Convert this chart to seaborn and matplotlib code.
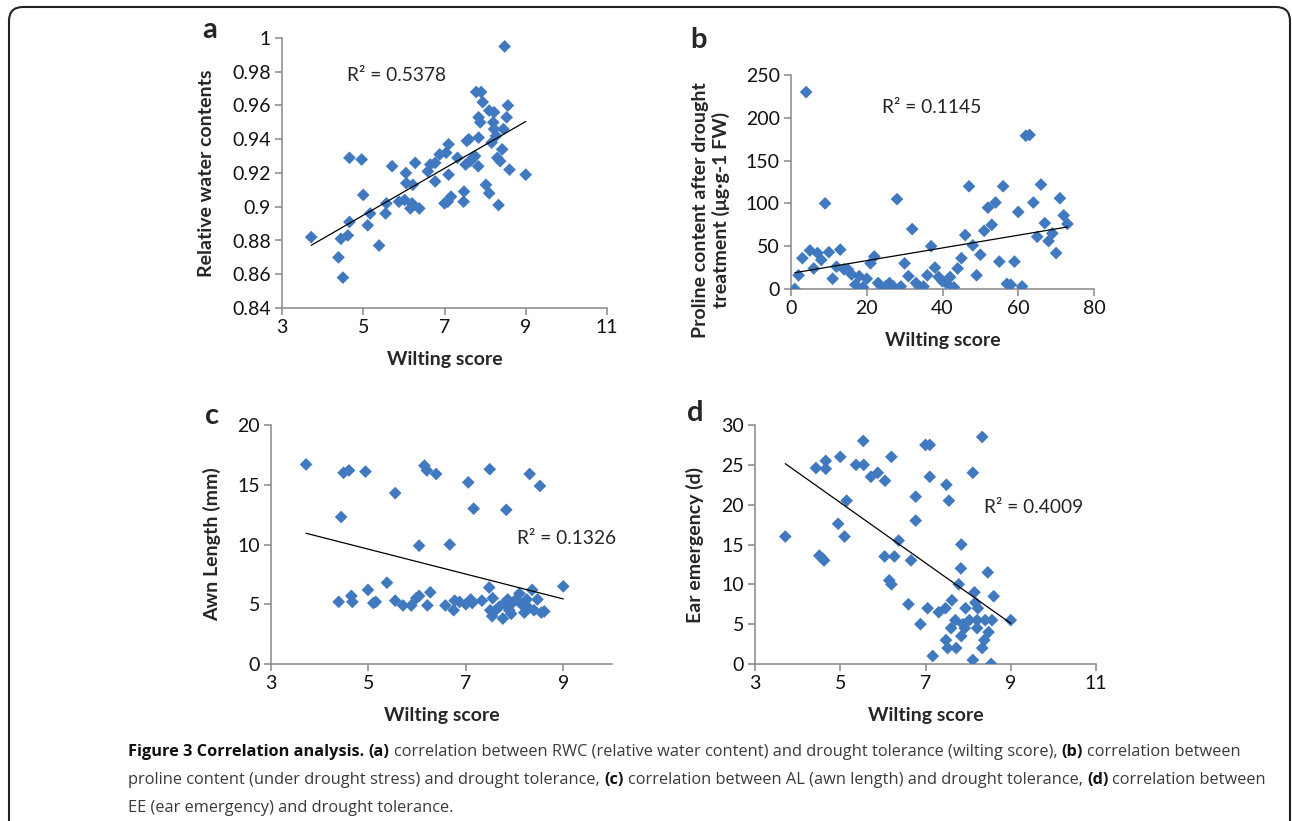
"""Figure 3: correlation of wilting score with RWC, proline, awn length and ear emergency."""
import matplotlib.pyplot as plt
import pandas as pd
import seaborn as sns
from matplotlib.patches import FancyBboxPatch
from matplotlib.transforms import IdentityTransform

W, H = 1292, 821
BLUE = '#4079bf'
AXIS_GREY = '#888888'

# panel a: wilting score vs relative water content
wilting_a = [3.72, 4.39, 4.45, 4.50, 4.62, 4.66, 4.66, 4.96, 5.00, 5.11, 5.17, 5.39, 5.55, 5.57,
             5.71, 5.88, 6.02, 6.05, 6.06, 6.16, 6.20, 6.22, 6.28, 6.38, 6.59, 6.65, 6.77, 6.77,
             6.88, 7.00, 7.08, 7.04, 7.10, 7.10, 7.16, 7.32, 7.47, 7.48, 7.52, 7.55, 7.60, 7.63,
             7.70, 7.75, 7.78, 7.84, 7.83, 7.84, 7.88, 7.90, 7.94, 8.02, 8.10, 8.10, 8.16, 8.22,
             8.20, 8.22, 8.27, 8.30, 8.33, 8.37, 8.42, 8.45, 8.48, 8.53, 8.56, 8.60, 9.00]
rwc = [0.882, 0.870, 0.881, 0.858, 0.883, 0.891, 0.929, 0.928, 0.907, 0.889, 0.896, 0.877, 0.896, 0.902,
       0.924, 0.903, 0.904, 0.920, 0.914, 0.899, 0.902, 0.913, 0.926, 0.899, 0.921, 0.925, 0.926, 0.915,
       0.931, 0.902, 0.903, 0.932, 0.937, 0.919, 0.906, 0.929, 0.903, 0.909, 0.925, 0.939, 0.940, 0.927,
       0.929, 0.930, 0.968, 0.941, 0.924, 0.953, 0.950, 0.968, 0.962, 0.913, 0.908, 0.957, 0.938, 0.956,
       0.950, 0.946, 0.942, 0.929, 0.901, 0.927, 0.934, 0.946, 0.995, 0.953, 0.960, 0.922, 0.919]

# panel b: wilting score vs proline content
wilting_b = [1, 2, 3, 4, 5, 6, 7, 8, 9, 10, 11, 12, 13, 14, 15, 16, 17, 18, 19, 20, 21, 22, 23, 24,
             25, 26, 27, 28, 29, 30, 31, 32, 33, 34, 35, 36, 37, 38, 39, 40, 41, 42, 43, 44, 45, 46,
             47, 48, 49, 50, 51, 52, 53, 54, 55, 56, 57, 58, 59, 60, 61, 62, 63, 64, 65, 66, 67, 68,
             69, 70, 71, 72, 73]
proline = [0, 16, 36, 230, 45, 24, 42, 34, 100, 43, 12, 26, 46, 23, 23, 17, 5, 15, 2, 12, 30, 38, 7, 2,
           3, 7, 3, 105, 3, 30, 15, 70, 7, 2, 3, 16, 50, 25, 14, 9, 7, 14, 2, 24, 36, 63,
           120, 51, 16, 40, 68, 95, 75, 101, 32, 120, 6, 5, 32, 90, 3, 179, 180, 101, 61, 122, 77, 56,
           65, 42, 106, 86, 76]

# panel c: wilting score vs awn length
wilting_c = [3.72, 4.39, 4.44, 4.49, 4.60, 4.65, 4.67, 4.94, 4.99, 5.10, 5.15, 5.38, 5.55, 5.55,
             5.71, 5.88, 5.98, 6.04, 6.04, 6.15, 6.20, 6.21, 6.27, 6.39, 6.58, 6.67, 6.75, 6.77,
             6.87, 7.00, 7.05, 7.10, 7.13, 7.16, 7.33, 7.48, 7.49, 7.50, 7.55, 7.54, 7.61, 7.69,
             7.76, 7.79, 7.83, 7.86, 7.89, 7.93, 7.95, 8.03, 8.10, 8.14, 8.20, 8.25, 8.29, 8.31,
             8.36, 8.40, 8.47, 8.52, 8.55, 8.61, 9.00]
awn = [16.7, 5.2, 12.3, 16.0, 16.2, 5.7, 5.2, 16.1, 6.2, 5.1, 5.2, 6.8, 14.3, 5.3,
       4.9, 4.9, 5.5, 5.7, 9.9, 16.6, 16.2, 4.9, 6.0, 15.9, 4.9, 10.0, 4.5, 5.3,
       5.2, 5.0, 15.2, 5.4, 5.1, 13.0, 5.3, 6.4, 16.3, 4.5, 5.5, 4.0, 4.5, 4.8,
       3.8, 5.1, 12.9, 5.4, 4.5, 4.2, 5.1, 5.4, 5.9, 5.0, 4.3, 5.4, 4.7, 15.9,
       6.2, 4.5, 5.4, 14.9, 4.3, 4.4, 6.5]

# panel d: wilting score vs ear emergency
wilting_d = [3.71, 4.43, 4.51, 4.57, 4.62, 4.66, 4.66, 4.95, 5.00, 5.10, 5.15, 5.37, 5.54, 5.55,
             5.72, 5.88, 6.05, 6.04, 6.15, 6.20, 6.20, 6.27, 6.37, 6.60, 6.66, 6.77, 6.77, 6.88,
             7.00, 7.10, 7.05, 7.10, 7.17, 7.31, 7.47, 7.49, 7.48, 7.52, 7.55, 7.60, 7.62, 7.70,
             7.72, 7.78, 7.83, 7.84, 7.84, 7.88, 7.92, 7.94, 8.03, 8.11, 8.11, 8.15, 8.17, 8.21,
             8.21, 8.23, 8.33, 8.33, 8.38, 8.40, 8.46, 8.48, 8.54, 8.56, 8.60, 9.00]
ear = [16.0, 24.6, 13.6, 13.3, 13.0, 25.5, 24.5, 17.6, 26.0, 16.0, 20.5, 25.0, 28.0, 25.0,
       23.5, 24.0, 23.0, 13.5, 10.5, 10.0, 26.0, 13.5, 15.5, 7.5, 13.0, 21.0, 18.0, 5.0,
       27.5, 27.5, 7.0, 23.5, 1.0, 6.5, 7.0, 22.5, 3.0, 2.0, 20.5, 4.5, 8.0, 5.5,
       2.0, 10.0, 12.0, 15.0, 3.5, 5.0, 4.5, 7.0, 5.5, 24.0, 0.5, 9.0, 7.7, 5.5,
       4.5, 7.0, 28.5, 2.0, 3.0, 5.5, 11.5, 4.0, 0.0, 5.5, 8.5, 5.5]

# axis ticks / labels
ticks_a_x = [3, 5, 7, 9, 11]
ticks_a_y = [0.84, 0.86, 0.88, 0.90, 0.92, 0.94, 0.96, 0.98, 1.00]
ticks_b_x = [0, 20, 40, 60, 80]
ticks_b_y = [0, 50, 100, 150, 200, 250]
ticks_c_x = [3, 5, 7, 9]
ticks_c_y = [0, 5, 10, 15, 20]
ticks_d_x = [3, 5, 7, 9, 11]
ticks_d_y = [0, 5, 10, 15, 20, 25, 30]

caption_lines = [
    [("Figure 3 Correlation analysis.", True), ("(a)", True),
     ("correlation between RWC (relative water content) and drought tolerance (wilting score),", False),
     ("(b)", True), ("correlation between", False)],
    [("proline content (under drought stress) and drought tolerance,", False), ("(c)", True),
     ("correlation between AL (awn length) and drought tolerance,", False), ("(d)", True),
     ("correlation between", False)],
    [("EE (ear emergency) and drought tolerance.", False)],
]


def frac(box):
    left, top, right, bottom = box
    return [left / W, 1 - bottom / H, (right - left) / W, (bottom - top) / H]


def panel(fig, box, x, y, xlim, xticks, ylim, yticks, ylabel, ylabel_pos, r2, r2_xy,
          letter, letter_xy):
    ax = fig.add_axes(frac(box))
    df = pd.DataFrame({'x': x, 'y': y})
    sns.scatterplot(data=df, x='x', y='y', ax=ax, marker='D', s=42, color=BLUE,
                    edgecolor='none', linewidth=0, zorder=3)
    sns.regplot(data=df, x='x', y='y', ax=ax, scatter=False, ci=None, color='black',
                line_kws={'linewidth': 0.9, 'zorder': 4})
    ax.set_xlim(xlim)
    ax.set_ylim(ylim)
    ax.set_xticks(xticks)
    ax.set_yticks(yticks)
    ax.set_xticklabels([f'{v:g}' for v in xticks])
    ax.set_yticklabels([f'{v:g}' for v in yticks])
    sns.despine(ax=ax)
    for side in ('left', 'bottom'):
        ax.spines[side].set_color(AXIS_GREY)
        ax.spines[side].set_linewidth(1.1)
    ax.tick_params(direction='out', length=5, width=1.1, color=AXIS_GREY,
                   labelsize=14, labelcolor='#111111', pad=3)
    ax.set_xlabel('Wilting score', fontsize=14, fontweight='bold', labelpad=11)
    ax.set_ylabel(ylabel, fontsize=14, fontweight='bold')
    ax.yaxis.set_label_coords(*ylabel_pos)
    ax.text(r2_xy[0], r2_xy[1], r2, fontsize=13.8, va='center', ha='left')
    fig.text(letter_xy[0] / W, 1 - letter_xy[1] / H, letter, fontsize=21,
             fontweight='bold', ha='center', va='center')
    return ax


def run():
    sns.set_theme(style='ticks')
    plt.rcParams['font.family'] = ['Lato', 'DejaVu Sans']

    fig = plt.figure(figsize=(W / 100, H / 100), dpi=100)

    panel(fig, (282, 38, 607, 308), wilting_a, rwc, (3, 11), ticks_a_x, (0.84, 1.0), ticks_a_y,
          'Relative water contents', (-0.205, 0.5), 'R² = 0.5378', (4.6, 0.978), 'a', (210, 30))
    panel(fig, (791, 75, 1094, 289), wilting_b, proline, (0, 80), ticks_b_x, (0, 250), ticks_b_y,
          'Proline content after drought\ntreatment (μg·g-1 FW)', (-0.2, 0.37), 'R² = 0.1145',
          (24, 212), 'b', (698, 40))
    panel(fig, (271, 425, 612, 664), wilting_c, awn, (3, 10), ticks_c_x, (0, 20), ticks_c_y,
          'Awn Length (mm)', (-0.145, 0.5), 'R² = 0.1326', (8.06, 10.5), 'c', (212, 416))
    panel(fig, (755, 425, 1096, 664), wilting_d, ear, (3, 11), ticks_d_x, (0, 30), ticks_d_y,
          'Ear emergency (d)', (-0.15, 0.5), 'R² = 0.4009', (8.38, 19.7), 'd', (695, 413))

    # caption, mixed bold / regular runs laid out one after another
    renderer = fig.canvas.get_renderer()
    cap_kw = dict(fontsize=11.8, family=['Open Sans', 'DejaVu Sans'], va='baseline', ha='left')
    probe = fig.text(0, 0, 'x x', **cap_kw)
    probe2 = fig.text(0, 0, 'xx', **cap_kw)
    space_w = probe.get_window_extent(renderer).width - probe2.get_window_extent(renderer).width
    probe.remove()
    probe2.remove()
    baselines = [756, 784, 812]
    for segments, base in zip(caption_lines, baselines):
        x = 128
        for txt, bold in segments:
            t = fig.text(x / W, 1 - base / H, txt, color='#111111' if bold else '#3a3a3a',
                         fontweight='bold' if bold else 'normal', **cap_kw)
            x += t.get_window_extent(renderer).width + space_w

    # rounded frame round the whole figure
    frame = FancyBboxPatch((9, -30), 1281, H - 7 + 30, boxstyle='round,pad=0,rounding_size=14',
                           transform=IdentityTransform(), fill=False, edgecolor='#222222',
                           linewidth=1.5)
    fig.patches.append(frame)

    fig.savefig('out.png', dpi=100)


if __name__ == "__main__":
    run()
